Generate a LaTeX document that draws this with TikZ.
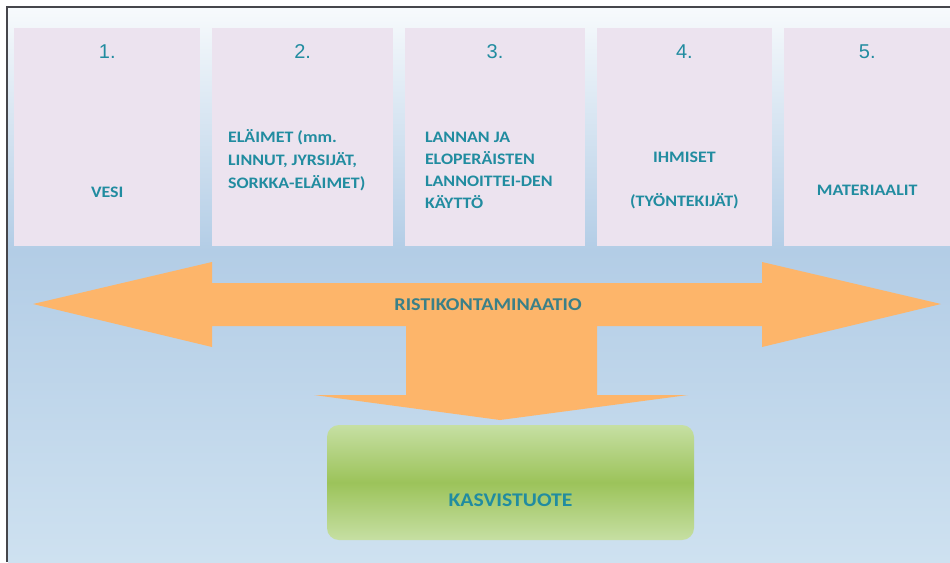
\documentclass[tikz,border=0pt]{standalone}
\usepackage{fontspec}
\setmainfont{Carlito}
\newfontfamily\labelfont{Carlito}[FakeStretch=1.12]
\newfontfamily\numberfont{Liberation Sans}
\usepackage{tikz}
\usetikzlibrary{positioning}
\definecolor{srcpink}{RGB}{236,227,239}
\definecolor{labelteal}{RGB}{33,140,160}
\definecolor{crossteal}{RGB}{58,128,136}
\definecolor{arroworange}{RGB}{253,181,106}
\definecolor{bgtop}{RGB}{247,250,252}
\definecolor{bgmid}{RGB}{179,205,230}
\definecolor{bgbottom}{RGB}{206,225,240}
\definecolor{greenlight}{RGB}{198,223,163}
\definecolor{greendark}{RGB}{156,195,90}
\definecolor{framegray}{RGB}{70,70,75}

\begin{document}
\begin{tikzpicture}[x=0.75pt, y=-0.75pt, node distance=8.5pt]
    % Styles
    \tikzstyle{srcbox} = [rectangle, fill=srcpink, minimum height=163.5pt, inner sep=0pt]
    \tikzstyle{numtext} = [font=\numberfont\fontsize{15}{18}\selectfont, text=labelteal]
    \tikzstyle{srctext} = [font=\labelfont\bfseries\fontsize{12}{17}\selectfont,
        text=labelteal, inner sep=0pt]
    \tikzstyle{prodbox} = [rectangle, rounded corners=9pt, minimum width=275.25pt,
        minimum height=86.25pt, top color=greenlight, bottom color=greenlight, middle color=greendark]

    \useasboundingbox (0,0) rectangle (950,562);

    % Background and frame
    \shade[top color=bgtop, bottom color=bgmid] (8,8) rectangle (950,250);
    \shade[top color=bgmid, bottom color=bgbottom] (8,250) rectangle (950,562);
    \draw[framegray, line width=1.5pt] (7,562) -- (7,7) -- (950,7);

    % Source boxes (top row)
    \node [srcbox, minimum width=139.5pt, anchor=north west] (b1) at (14,28) {};
    \node [srcbox, minimum width=135.75pt, right=of b1] (b2) {};
    \node [srcbox, minimum width=135pt, right=of b2] (b3) {};
    \node [srcbox, minimum width=131.25pt, right=of b3] (b4) {};
    \node [srcbox, minimum width=125.25pt, right=of b4] (b5) {};

    % Numbers
    \node [numtext] (n1) at ([yshift=-18pt]b1.north) {1.};
    \node [numtext] (n2) at ([yshift=-18pt]b2.north) {2.};
    \node [numtext] (n3) at ([yshift=-18pt]b3.north) {3.};
    \node [numtext] (n4) at ([yshift=-18pt]b4.north) {4.};
    \node [numtext] (n5) at ([yshift=-18pt]b5.north) {5.};

    % Box texts
    \node [srctext] (t1) at ([yshift=-41.25pt]b1.center) {VESI};
    \node [srctext, align=left, anchor=west] (t2) at ([xshift=12pt, yshift=-17.25pt]b2.west)
        {ELÄIMET (mm.\\LINNUT, JYRSIJÄT,\\SORKKA-ELÄIMET)};
    \node [srctext, align=left, anchor=west, font=\labelfont\bfseries\fontsize{12}{16.5}\selectfont]
        (t3) at ([xshift=15pt, yshift=-24.75pt]b3.west)
        {LANNAN JA\\ELOPERÄISTEN\\LANNOITTEI-DEN\\KÄYTTÖ};
    \node [srctext, align=center] (t4) at ([yshift=-32.25pt]b4.center)
        {IHMISET\\[16pt](TYÖNTEKIJÄT)};
    \node [srctext] (t5) at ([yshift=-39.75pt]b5.center) {MATERIAALIT};

    % Cross contamination arrow
    \fill[arroworange] (33,304) -- (212,262) -- (212,283) -- (762,283) -- (762,262)
        -- (941,304) -- (762,347) -- (762,326) -- (597,326) -- (597,395) -- (688,395)
        -- (500,420) -- (314,395) -- (406,395) -- (406,326) -- (212,326) -- (212,347) -- cycle;
    \node [srctext, text=crossteal, font=\labelfont\bfseries\fontsize{13.5}{16}\selectfont]
        (cross) at (488,305) {RISTIKONTAMINAATIO};

    % Product
    \node [prodbox] (prod) at (510.5,482.5) {};
    \node [srctext, font=\labelfont\bfseries\fontsize{14.5}{17}\selectfont]
        (prodtext) at ([yshift=-13pt]prod.center) {KASVISTUOTE};
\end{tikzpicture}
\end{document}
